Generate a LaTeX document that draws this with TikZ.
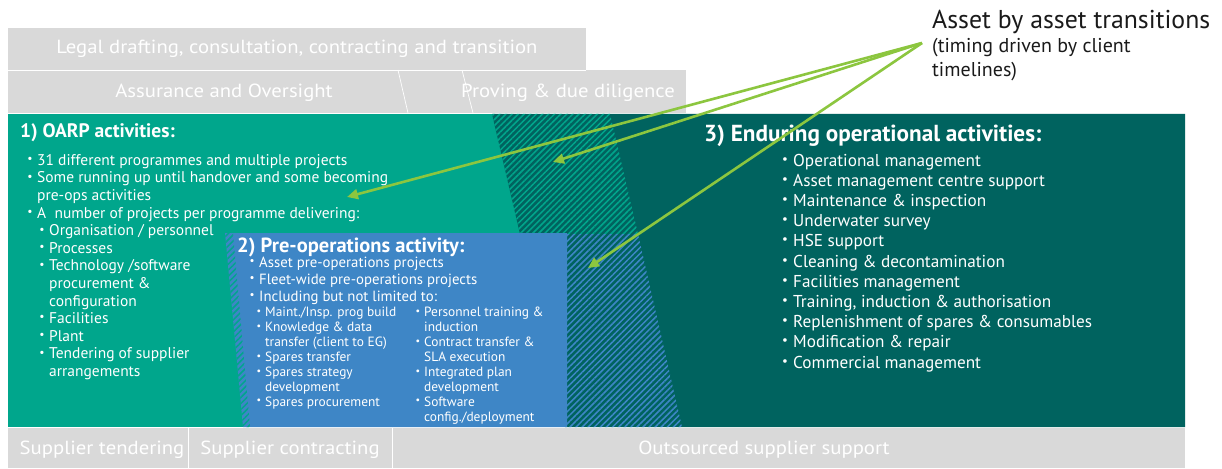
\documentclass[tikz,border=0pt]{standalone}
\usepackage{fontspec}
\setmainfont{PT Sans}
\usetikzlibrary{patterns.meta,arrows.meta}
\definecolor{lteal}{HTML}{00A68C}
\definecolor{dteal}{HTML}{00635F}
\definecolor{pblue}{HTML}{3E86C6}
\definecolor{boxgrey}{HTML}{D9D9D9}
\definecolor{arrgreen}{HTML}{8CC63F}
\definecolor{lbltext}{HTML}{1A1A1A}
\newcommand\fs[1]{\fontsize{#1}{#1}\selectfont}
\newcommand\B{\llap{\raisebox{.17em}{\scalebox{.75}{\textbullet}}\hspace{.3em}}}
\newcommand\IN{\hspace*{12pt}}
\newcommand\GX[1]{\scalebox{1.09}[1]{#1}}
\tikzset{
  greytext/.style={text=white, font=\fs{19}, inner sep=0pt},
  wtext/.style={text=white, anchor=base west, inner sep=0pt},
  hatchteal/.style={pattern={Lines[angle=45,distance=4.3pt,line width=1.5pt]}, pattern color=lteal},
  hatchblue/.style={pattern={Lines[angle=45,distance=4.3pt,line width=1.5pt]}, pattern color=pblue},
  transarrow/.style={draw=arrgreen, line width=2.6pt, -{Triangle[length=11pt,width=10pt]}},
  labtext/.style={anchor=base west, inner sep=0pt, text=lbltext},
}
\begin{document}
\begin{tikzpicture}[x=1pt,y=-1pt]
\useasboundingbox (0,0) rectangle (1222,468);
\fill[white] (0,0) rectangle (1222,468);
% grey top rows
\fill[boxgrey] (8,28) rectangle (586,70);
\fill[boxgrey] (8,70) rectangle (686,113);
\draw[white, line width=0.7pt] (8,70) -- (586,70);
\draw[white, line width=0.7pt] (398,70) -- (408,113);
\draw[white, line width=0.7pt] (462,70) -- (473,113);
\node[greytext] (legal) at (297,49) {\GX{Legal drafting, consultation, contracting and transition}};
\node[greytext] (assur) at (224,93) {\GX{Assurance and Oversight}};
\node[greytext] (prov) at (568,93) {\GX{Proving \& due diligence}};
% bottom row
\fill[boxgrey] (8,428) rectangle (1185,468);
\draw[white, line width=0.7pt] (188,428) -- (188,468);
\draw[white, line width=0.7pt] (392,428) -- (392,468);
\node[greytext] (tend) at (102,450) {\GX{Supplier tendering}};
\node[greytext] (contr) at (290,450) {\GX{Supplier contracting}};
\node[greytext] (outs) at (764,450) {\GX{Outsourced supplier support}};
% main band
\fill[lteal] (8,114) rectangle (1185,427);
\fill[dteal] (492,114) -- (1185,114) -- (1185,427) -- (565,427) -- cycle;
\fill[hatchteal] (492,114) -- (610,114) -- (638,234) -- (520,234) -- cycle;
\fill[hatchblue] (520,234) -- (638,234) -- (682,427) -- (565,427) -- cycle;
% blue box
\fill[pblue] (225,233) -- (567,233) -- (567,427) -- (243,427) -- cycle;
\fill[hatchteal] (225,233) -- (233,233) -- (250,427) -- (243,427) -- cycle;
% OARP texts
\node[wtext, font=\bfseries\fs{19.5}] (t1) at (20,137.8) {1) OARP activities:};
\foreach \t [count=\i from 0] in {
  {\B 31 different programmes and multiple projects},
  {\B Some running up until handover and some becoming},
  {pre-ops activities},
  {\B A\ \ number of projects per programme delivering:},
  {\IN\B Organisation / personnel},
  {\IN\B Processes},
  {\IN\B Technology /software},
  {\IN procurement \&},
  {\IN configuration},
  {\IN\B Facilities},
  {\IN\B Plant},
  {\IN\B Tendering of supplier},
  {\IN arrangements}}
  \node[wtext, font=\fs{15.5}] (oarp\i) at (37,{165.4+\i*17.58}) {\t};
% Pre-operations texts
\node[wtext, font=\bfseries\fs{20.5}] (t2) at (237,252.2) {2) Pre-operations activity:};
\foreach \t [count=\i from 0] in {
  {\B Asset pre-operations projects},
  {\B Fleet-wide pre-operations projects},
  {\B Including but not limited to:}}
  \node[wtext, font=\fs{14.8}] (pre\i) at (259,{267.2+\i*17}) {\t};
\foreach \t [count=\i from 0] in {
  {\B Maint./Insp. prog build},
  {\B Knowledge \& data},
  {transfer (client to EG)},
  {\B Spares transfer},
  {\B Spares strategy},
  {development},
  {\B Spares procurement}}
  \node[wtext, font=\fs{13.4}] (pl\i) at (265,{316.7+\i*14.9}) {\t};
\foreach \t [count=\i from 0] in {
  {\B Personnel training \&},
  {induction},
  {\B Contract transfer \&},
  {SLA execution},
  {\B Integrated plan},
  {development},
  {\B Software},
  {config./deployment}}
  \node[wtext, font=\fs{13.4}] (pr\i) at (424,{316.7+\i*14.9}) {\t};
% Enduring texts
\node[wtext, font=\bfseries\fs{23.2}] (t3) at (704,141.1) {3) Enduring operational activities:};
\foreach \t [count=\i from 0] in {
  {\B Operational management},
  {\B Asset management centre support},
  {\B Maintenance \& inspection},
  {\B Underwater survey},
  {\B HSE support},
  {\B Cleaning \& decontamination},
  {\B Facilities management},
  {\B Training, induction \& authorisation},
  {\B Replenishment of spares \& consumables},
  {\B Modification \& repair},
  {\B Commercial management}}
  \node[wtext, font=\fs{17.2}] (end\i) at (793,{166+\i*20.2}) {\t};
% label
\node[labtext, font=\fs{25.8}] (lab1) at (932,29) {Asset by asset transitions};
\node[labtext, font=\fs{20}] (lab2) at (932,53) {(timing driven by client};
\node[labtext, font=\fs{20}] (lab3) at (932,77) {timelines)};
% arrows
\coordinate (src) at (922,43);
\coordinate (tipA) at (347,197);
\coordinate (tipB) at (553,162);
\coordinate (tipC) at (588,268);
\draw[transarrow] (src) -- (tipA);
\draw[transarrow] (src) -- (tipB);
\draw[transarrow] (src) -- (tipC);
\end{tikzpicture}
\end{document}
